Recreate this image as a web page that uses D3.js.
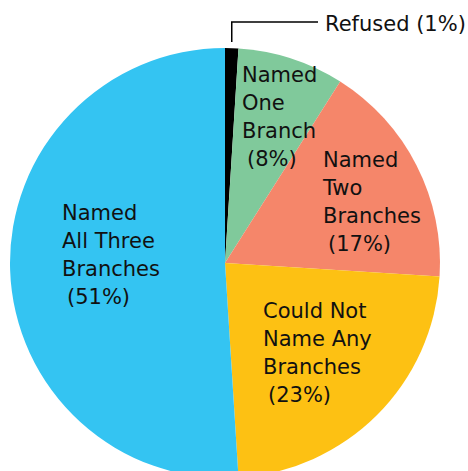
<!DOCTYPE html>
<html>
<head>
<meta charset="utf-8">
<script src="https://cdn.jsdelivr.net/npm/d3@7"></script>
<style>
  html, body { margin: 0; padding: 0; background: #fff; }
  svg text { font-family: "DejaVu Sans", "Noto Sans", sans-serif; fill: #111; }
</style>
</head>
<body>
<div id="chart"></div>
<script>
/* =========================
   DATA
   ========================= */

const categories = ["Refused", "Named One Branch", "Named Two Branches", "Could Not Name Any Branches", "Named All Three Branches"];
const values = [1, 8, 17, 23, 51];
const labelLines = [
  ["Refused (1%)"],
  ["Named", "One", "Branch", "(8%)"],
  ["Named", "Two", "Branches", "(17%)"],
  ["Could Not", "Name Any", "Branches", "(23%)"],
  ["Named", "All Three", "Branches", "(51%)"]
];

/* =========================
   LAYOUT
   ========================= */

const WIDTH = 468;
const HEIGHT = 471;
const CX = 225, CY = 263, R = 215;
const FONT_SIZE = 21;
const LINE_H = 28;
const PCT_INDENT = 5; // the percentage line sits a little to the right
const colors = ["#000000", "#80C99B", "#F5866A", "#FDC113", "#34C4F2"];
// top-left anchor (x, first baseline) of each label block
const labelPos = [
  [325, 31],
  [242, 82],
  [323, 167],
  [263, 318],
  [62, 220]
];

const svg = d3.select("#chart").append("svg")
  .attr("width", WIDTH)
  .attr("height", HEIGHT);

const pie = d3.pie().sort(null).value(d => d);
const arc = d3.arc().innerRadius(0).outerRadius(R);

const g = svg.append("g").attr("transform", `translate(${CX},${CY})`);

g.selectAll("path")
  .data(pie(values))
  .enter()
  .append("path")
  .attr("d", arc)
  .attr("fill", (d, i) => colors[i]);

// leader line for the tiny "Refused" slice
const refused = pie(values)[0];
const midA = (refused.startAngle + refused.endAngle) / 2;
const lx = CX + Math.sin(midA) * R;
svg.append("path")
  .attr("d", `M${lx},${CY - R - 6}V22H318`)
  .attr("fill", "none")
  .attr("stroke", "#000")
  .attr("stroke-width", 1.5);

// labels
labelLines.forEach((lines, i) => {
  const t = svg.append("text")
    .attr("x", labelPos[i][0])
    .attr("y", labelPos[i][1])
    .attr("font-size", FONT_SIZE);
  lines.forEach((line, j) => {
    const isPct = lines.length > 1 && j === lines.length - 1;
    t.append("tspan")
      .attr("x", labelPos[i][0] + (isPct ? PCT_INDENT : 0))
      .attr("y", labelPos[i][1] + j * LINE_H)
      .text(line);
  });
});
</script>
</body>
</html>
